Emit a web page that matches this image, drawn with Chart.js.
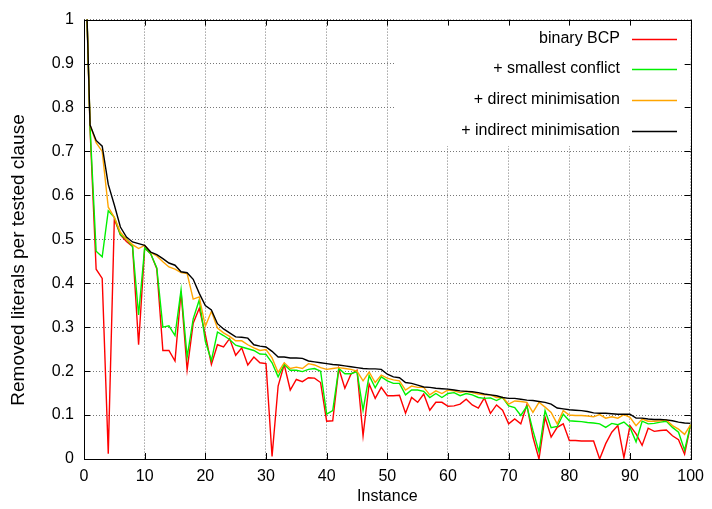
<!DOCTYPE html>
<html>
<head>
<meta charset="utf-8">
<script src="https://cdn.jsdelivr.net/npm/chart.js@4/dist/chart.umd.min.js"></script>
<style>
  html, body { margin: 0; padding: 0; background: #fff; }
  canvas { display: block; }
</style>
</head>
<body>
<canvas id="chart" width="712" height="509"></canvas>
<script>
// removed literals per tested clause, one value per instance (0..100)
const binaryBcp = [
  1.25, 0.75, 0.432, 0.411, 0.012, 0.546, 0.51, 0.495, 0.484, 0.26,
  0.48, 0.467, 0.433, 0.247, 0.247, 0.223, 0.381, 0.203, 0.309, 0.343,
  0.283, 0.215, 0.26, 0.255, 0.274, 0.236, 0.253, 0.214, 0.232, 0.219,
  0.217, 0.006, 0.166, 0.215, 0.157, 0.181, 0.176, 0.185, 0.184, 0.174,
  0.086, 0.087, 0.206, 0.161, 0.193, 0.202, 0.053, 0.171, 0.138, 0.163,
  0.144, 0.144, 0.145, 0.104, 0.14, 0.129, 0.148, 0.111, 0.129, 0.129,
  0.12, 0.121, 0.125, 0.136, 0.123, 0.116, 0.139, 0.104, 0.123, 0.111,
  0.08, 0.091, 0.08, 0.123, 0.05, 0.0, 0.095, 0.05, 0.072, 0.08,
  0.042, 0.042, 0.041, 0.041, 0.041, 0.0, 0.035, 0.061, 0.076, 0.003,
  0.076, 0.057, 0.031, 0.07, 0.063, 0.065, 0.066, 0.053, 0.044, 0.011,
  0.078
]
const smallestConflict = [
  1.25, 0.755, 0.473, 0.46, 0.565, 0.55, 0.511, 0.5, 0.484, 0.328,
  0.48, 0.467, 0.435, 0.3, 0.303, 0.281, 0.385, 0.232, 0.319, 0.362,
  0.268, 0.224, 0.289, 0.281, 0.272, 0.259, 0.255, 0.251, 0.247, 0.239,
  0.238, 0.219, 0.187, 0.215, 0.202, 0.202, 0.199, 0.204, 0.206, 0.2,
  0.102, 0.11, 0.206, 0.194, 0.194, 0.199, 0.111, 0.19, 0.162, 0.187,
  0.178, 0.172, 0.172, 0.146, 0.157, 0.157, 0.154, 0.14, 0.149, 0.14,
  0.149, 0.151, 0.144, 0.149, 0.146, 0.14, 0.138, 0.139, 0.133, 0.14,
  0.121, 0.117, 0.099, 0.12, 0.065, 0.016, 0.11, 0.071, 0.074, 0.102,
  0.087, 0.086, 0.085, 0.083, 0.082, 0.08, 0.072, 0.081, 0.078, 0.084,
  0.072, 0.039, 0.086, 0.08, 0.081, 0.084, 0.086, 0.072, 0.061, 0.02,
  0.078
]
const directMin = [
  1.25, 0.76, 0.72, 0.7, 0.573, 0.55, 0.516, 0.5, 0.488, 0.479,
  0.486, 0.47, 0.462, 0.449, 0.437, 0.432, 0.424, 0.422, 0.364, 0.369,
  0.302, 0.336, 0.298, 0.287, 0.279, 0.269, 0.269, 0.26, 0.253, 0.247,
  0.249, 0.23, 0.197, 0.219, 0.206, 0.209, 0.206, 0.217, 0.214, 0.208,
  0.204, 0.206, 0.208, 0.206, 0.204, 0.2, 0.178, 0.198, 0.174, 0.191,
  0.184, 0.18, 0.178, 0.157, 0.166, 0.163, 0.163, 0.146, 0.155, 0.149,
  0.157, 0.155, 0.151, 0.154, 0.151, 0.148, 0.146, 0.146, 0.14, 0.14,
  0.125, 0.132, 0.131, 0.129, 0.106, 0.129, 0.118, 0.106, 0.08, 0.11,
  0.1, 0.099, 0.099, 0.098, 0.096, 0.101, 0.093, 0.096, 0.093, 0.101,
  0.095, 0.076, 0.091, 0.086, 0.086, 0.087, 0.089, 0.076, 0.068, 0.056,
  0.078
]
const indirectMin = [
  1.25, 0.76, 0.725, 0.712, 0.625, 0.578, 0.528, 0.505, 0.494, 0.49,
  0.486, 0.471, 0.465, 0.456, 0.446, 0.441, 0.426, 0.424, 0.409, 0.377,
  0.349, 0.339, 0.308, 0.296, 0.287, 0.278, 0.277, 0.275, 0.26, 0.257,
  0.255, 0.245, 0.232, 0.232, 0.23, 0.23, 0.229, 0.223, 0.221, 0.219,
  0.217, 0.215, 0.214, 0.212, 0.21, 0.208, 0.206, 0.205, 0.205, 0.204,
  0.193, 0.187, 0.185, 0.174, 0.172, 0.168, 0.164, 0.163, 0.161, 0.16,
  0.159, 0.157, 0.155, 0.154, 0.153, 0.151, 0.148, 0.146, 0.144, 0.14,
  0.138, 0.138, 0.136, 0.134, 0.133, 0.131, 0.129, 0.125, 0.116, 0.114,
  0.112, 0.111, 0.11, 0.108, 0.105, 0.104, 0.104, 0.103, 0.102, 0.102,
  0.102, 0.093, 0.093, 0.091, 0.09, 0.09, 0.089, 0.087, 0.084, 0.082,
  0.081
]

const SERIES_NAMES = ['binary BCP', '+ smallest conflict', '+ direct minimisation', '+ indirect minimisation']
const SERIES_COLORS = ['#ff0000', '#00f000', '#ffa500', '#000000']
const X_TITLE = 'Instance'
const Y_TITLE = 'Removed literals per tested clause'

const instances = binaryBcp.map((_, i) => i)

const FONT = '"Liberation Sans", Arial, sans-serif'
const TICK_LEN = 6

// gnuplot-like frame: opaque key box, border, inward ticks on all sides, key, axis titles
const framePlugin = {
  id: 'frame',
  beforeDatasetsDraw (chart) {
    const { ctx, chartArea: a } = chart
    ctx.save()
    ctx.fillStyle = '#fff'
    ctx.fillRect(395, a.top, a.right - 395, 146 - a.top)
    ctx.restore()
  },
  afterDatasetsDraw (chart) {
    const { ctx, chartArea: a, scales: { x, y } } = chart
    ctx.save()
    ctx.strokeStyle = '#000'
    ctx.lineWidth = 1
    ctx.beginPath()
    x.ticks.forEach((t) => {
      const px = Math.round(x.getPixelForValue(t.value)) + 0.5
      ctx.moveTo(px, a.bottom)
      ctx.lineTo(px, a.bottom - TICK_LEN)
      ctx.moveTo(px, a.top)
      ctx.lineTo(px, a.top + TICK_LEN)
    })
    y.ticks.forEach((t) => {
      const py = Math.round(y.getPixelForValue(t.value)) + 0.5
      ctx.moveTo(a.left, py)
      ctx.lineTo(a.left + TICK_LEN, py)
      ctx.moveTo(a.right, py)
      ctx.lineTo(a.right - TICK_LEN, py)
    })
    ctx.stroke()
    ctx.strokeRect(Math.round(a.left) + 0.5, Math.round(a.top) + 0.5,
      Math.round(a.right - a.left), Math.round(a.bottom - a.top))

    // key
    ctx.font = '16px ' + FONT
    ctx.textAlign = 'right'
    ctx.textBaseline = 'middle'
    SERIES_NAMES.forEach((name, i) => {
      const rowY = Math.round(38.5 + i * 30.8)
      ctx.fillStyle = '#000'
      ctx.fillText(name, 620, rowY)
      ctx.strokeStyle = SERIES_COLORS[i]
      ctx.lineWidth = 1.4
      ctx.beginPath()
      ctx.moveTo(632, rowY + 0.5)
      ctx.lineTo(677, rowY + 0.5)
      ctx.stroke()
    })

    // axis titles
    ctx.fillStyle = '#000'
    ctx.textAlign = 'center'
    ctx.fillText(X_TITLE, (a.left + a.right) / 2, 497)
    ctx.translate(19, 260)
    ctx.rotate(-Math.PI / 2)
    ctx.font = '19px ' + FONT
    ctx.fillText(Y_TITLE, 0, 0)
    ctx.restore()
  }
}

const series = [binaryBcp, smallestConflict, directMin, indirectMin]

const CONFIG = {
  type: 'line',
  data: {
    labels: instances,
    datasets: series.map((values, i) => ({
      label: SERIES_NAMES[i],
      data: values,
      borderColor: SERIES_COLORS[i],
      borderWidth: 1.4,
      pointRadius: 0,
      tension: 0,
      fill: false,
      order: series.length - i
    }))
  },
  options: {
    responsive: false,
    animation: false,
    layout: { padding: { left: 0, right: 15, top: 15, bottom: 0 } },
    plugins: {
      legend: { display: false },
      tooltip: { enabled: false }
    },
    scales: {
      x: {
        type: 'linear',
        min: 0,
        max: 100,
        afterFit: (scale) => { scale.height = 50 },
        ticks: { stepSize: 10, color: '#000', padding: 8, font: { family: FONT, size: 16 }, maxRotation: 0 },
        grid: { color: '#777', drawTicks: false },
        border: { display: false, dash: [1, 2] }
      },
      y: {
        min: 0,
        max: 1,
        afterFit: (scale) => { scale.width = 84 },
        ticks: {
          stepSize: 0.1,
          color: '#000',
          padding: 10,
          font: { family: FONT, size: 16 },
          callback: (v) => String(Number(v.toFixed(1)))
        },
        grid: { color: '#777', drawTicks: false },
        border: { display: false, dash: [1, 2] }
      }
    }
  },
  plugins: [framePlugin]
}

// eslint-disable-next-line no-unused-vars
const chart = new Chart(document.getElementById('chart'), CONFIG)
</script>
</body>
</html>
